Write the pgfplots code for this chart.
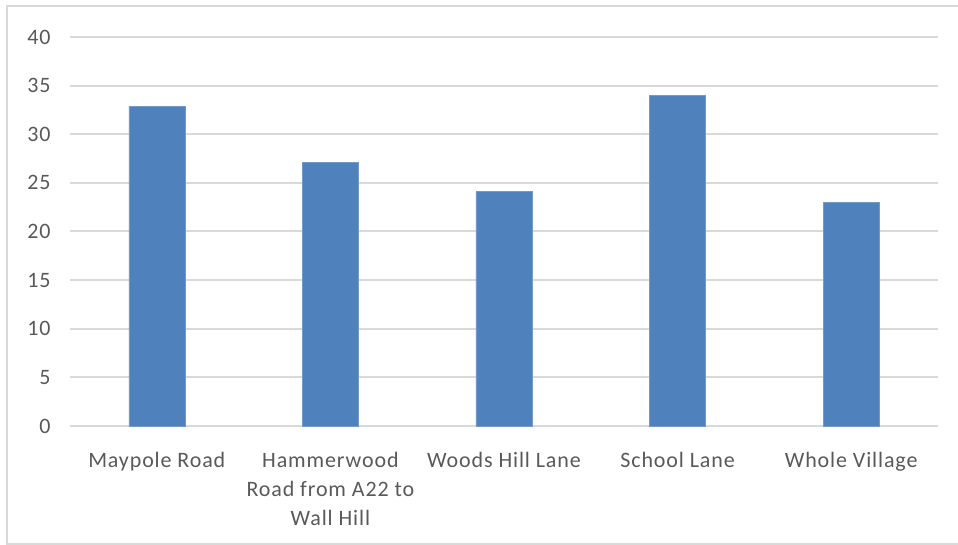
\documentclass[border=0pt]{standalone}
\usepackage{pgfplots}
\pgfplotsset{compat=1.18}
\usepackage{fontspec}
\setmainfont{Carlito}[LetterSpace=4]
\definecolor{barblue}{HTML}{4F81BD}
\definecolor{gridgray}{HTML}{D9D9D9}
\definecolor{txtgray}{HTML}{595959}
\begin{document}
\begin{tikzpicture}
\useasboundingbox (0pt,0pt) rectangle (718.5pt,408.75pt);
\draw[gridgray,line width=1.5pt] (4.9pt,0pt) -- (4.9pt,403.9pt) -- (718.5pt,403.9pt);
\draw[gridgray,line width=1pt] (4.9pt,0.75pt) -- (718.5pt,0.75pt);
\begin{axis}[
  at={(52.5pt,89.25pt)}, anchor=south west,
  scale only axis,
  width=651pt, height=291.75pt,
  xmin=-0.5, xmax=4.5,
  ymin=0, ymax=40,
  ytick={0,5,...,40},
  xtick=data,
  xticklabels={Maypole Road,{Hammerwood\\Road from A22 to\\Wall Hill},Woods Hill Lane,School Lane,Whole Village},
  x tick label style={align=center, font=\fontsize{16.5}{22}\selectfont, text=txtgray, anchor=north, yshift=-16pt},
  y tick label style={font=\fontsize{16.5}{19}\selectfont, text=txtgray},
  /pgf/number format/assume math mode=true,
  ymajorgrids,
  grid style={gridgray, line width=1.5pt},
  axis line style={draw=none},
  axis x line*=bottom,
  x axis line style={draw=gridgray, line width=1.5pt},
  major tick length=0pt,
  yticklabel style={xshift=-11pt},
  ybar,
  bar width=42pt,
  clip=false,
]
\addplot[fill=barblue, draw=barblue!80!white, line width=0.4pt] coordinates {(0,32.9) (1,27.1) (2,24.1) (3,34) (4,23)};
\end{axis}
\end{tikzpicture}
\end{document}
